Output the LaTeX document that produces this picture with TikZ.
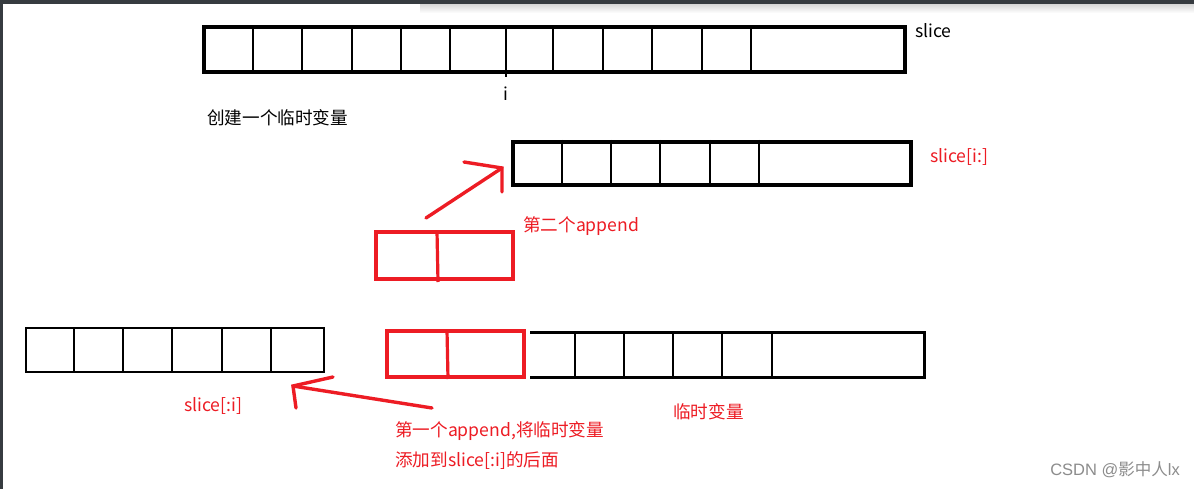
\documentclass[tikz,border=0pt]{standalone}
\usepackage{fontspec}
\setmainfont{Noto Sans CJK SC}
\newfontfamily\wmfont{Liberation Sans}
\begin{document}
\begin{tikzpicture}[x=1pt,y=-1pt,
  blk/.style={draw=black,line width=3.2pt,line join=miter},
  redl/.style={draw=pred,line width=3.2pt},
  redarrow/.style={draw=pred,line width=3.4pt,line cap=round},
  lbl/.style={anchor=west,inner sep=0pt,font=\fontsize{17.6}{20}\selectfont},
  rlbl/.style={lbl,text=pred},
]
\definecolor{pred}{HTML}{ED1C24}
\definecolor{frame}{HTML}{363B40}
\useasboundingbox (0,0) rectangle (1194,489);
\fill[white] (0,0) rectangle (1194,489);
\shade[top color=black!16,bottom color=white] (420,4) rectangle (1194,13);
\fill[frame] (0,0) rectangle (1194,4);
\fill[frame] (0,0) rectangle (3,489);

% top array: slice
\draw[blk] (204,27) rectangle (905,72);
\foreach \x in {253,302,352,401,450,506,553,603,652,702,751}
  \draw[blk,line width=2.8pt] (\x,26) -- (\x,73);
\draw[line width=1.8pt] (506,72) -- (506,77);
\node[lbl] (slice) at (915,31) {slice};
\node[lbl,anchor=center] (ilbl) at (506,94) {i};
\node[lbl] (tmp) at (207,118) {创建一个临时变量};

% slice[i:]
\draw[blk] (513,142) rectangle (911,185);
\foreach \x in {562,611,660,710,759}
  \draw[blk,line width=2.8pt] (\x,140) -- (\x,186);
\node[rlbl] (si) at (930,157) {slice[i:]};

% second append box
\draw[redl] (376,232) rectangle (513,279);
\draw[redl] (437,231) -- (438,282);
\node[rlbl] (app2) at (523,226) {第二个append};
\coordinate (a2tail) at (426,218);
\coordinate (a2tip) at (502,168);
\coordinate (a2arm1) at (464,162);
\coordinate (a2arm2) at (502,192);
\draw[redarrow] (a2tail) -- (a2tip);
\draw[redarrow] (a2arm1) -- (a2tip) -- (a2arm2);

% bottom-left slice[:i]
\draw[blk,line width=2.8pt] (26,328) rectangle (324,372);
\foreach \x in {74,123,172,222,271}
  \draw[blk,line width=2.8pt] (\x,327) -- (\x,373);
\node[rlbl] (sli) at (184,406) {slice[:i]};

% bottom red box + temp var array
\draw[redl] (387,331) rectangle (524,377);
\draw[redl] (447,330) -- (448,379);
\draw[blk,line width=3pt] (530,332) -- (924,332) -- (924,377) -- (530,377);
\foreach \x in {575,624,673,722,772}
  \draw[blk,line width=2.8pt] (\x,331) -- (\x,378);
\node[rlbl] (tv) at (673,412) {临时变量};

% first append arrow
\coordinate (a1tail) at (432,408);
\coordinate (a1tip) at (293,386);
\coordinate (a1arm1) at (333,377);
\coordinate (a1arm2) at (296,408);
\draw[redarrow] (a1tail) -- (a1tip);
\draw[redarrow] (a1arm1) -- (a1tip) -- (a1arm2);
\node[rlbl] (app1a) at (395,431) {第一个append,将临时变量};
\node[rlbl] (app1b) at (395,461) {添加到slice[:i]的后面};

% watermark
\node[anchor=east,inner sep=0pt,text=black!45,font=\wmfont\fontsize{16.5}{19}\selectfont] (wm) at (1180,470) {CSDN @{\fontspec{Noto Sans CJK SC}影中人}lx};
\end{tikzpicture}
\end{document}
